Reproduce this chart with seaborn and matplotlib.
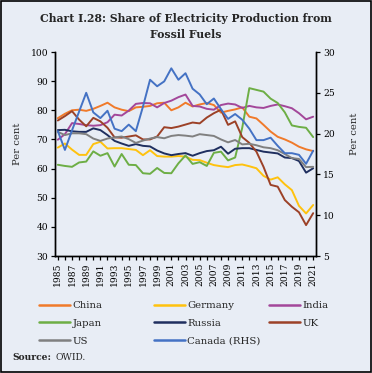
import pandas as pd
import matplotlib
matplotlib.use("Agg")
import matplotlib.pyplot as plt
import seaborn as sns
from matplotlib.ticker import MultipleLocator
from matplotlib.lines import Line2D
from matplotlib.patches import Rectangle

years = list(range(1985, 2022))

china = [77.3, 78.8, 80.0, 80.2, 79.8, 80.5, 81.5, 82.6, 81.0, 80.2,
         79.7, 81.0, 81.2, 81.5, 82.4, 82.6, 80.0, 81.0, 82.6, 81.3,
         82.0, 82.5, 81.8, 79.2, 79.8, 80.3, 81.0, 77.8, 77.2, 75.0,
         72.7, 70.9, 70.0, 68.9, 67.5, 66.6, 66.0]
germany = [67.2, 68.6, 66.5, 64.7, 64.7, 68.4, 69.2, 66.9, 67.0, 67.0,
           66.7, 66.4, 64.6, 66.3, 64.3, 64.1, 64.1, 64.3, 64.1, 63.0,
           62.9, 62.0, 61.2, 60.8, 60.5, 61.2, 61.4, 60.8, 60.1, 57.5,
           56.2, 57.0, 54.6, 52.6, 47.2, 44.6, 47.5]
india = [69.9, 71.8, 75.6, 75.3, 74.9, 74.7, 74.9, 75.9, 78.5, 78.2,
         79.9, 82.2, 82.5, 82.4, 81.0, 82.5, 83.3, 84.5, 85.4, 81.5,
         81.3, 80.5, 80.2, 81.8, 82.3, 82.0, 80.8, 81.5, 81.0, 80.8,
         81.5, 82.0, 81.4, 80.7, 79.0, 76.9, 77.8]
japan = [61.3, 60.9, 60.6, 62.1, 62.4, 65.9, 64.4, 65.3, 60.7, 65.0,
         61.3, 61.2, 58.4, 58.2, 60.2, 58.5, 58.4, 61.8, 64.5, 61.6,
         62.2, 60.9, 65.4, 65.8, 62.8, 63.8, 74.0, 87.6, 87.0, 86.4,
         84.0, 82.5, 79.3, 74.8, 74.3, 74.0, 70.8]
russia = [73.2, 73.3, 72.8, 72.6, 72.6, 73.8, 73.2, 71.5, 69.5, 68.6,
          67.8, 68.4, 67.8, 67.6, 66.2, 65.2, 64.6, 65.0, 65.3, 64.4,
          65.3, 66.0, 66.3, 67.5, 65.1, 66.8, 67.0, 67.0, 66.4, 65.8,
          65.5, 65.2, 63.8, 63.6, 62.6, 58.6, 60.1]
uk = [76.5, 78.0, 79.7, 76.8, 74.5, 77.4, 76.2, 74.0, 70.7, 70.6,
      71.0, 71.4, 70.0, 70.0, 71.0, 74.2, 73.9, 74.4, 75.1, 75.8,
      75.5, 77.5, 79.0, 80.2, 75.0, 76.2, 70.8, 68.8, 65.8, 60.6,
      54.4, 53.8, 49.2, 46.9, 45.0, 40.6, 44.7]
us = [72.6, 71.5, 72.1, 72.1, 71.8, 70.3, 69.5, 70.3, 70.7, 71.0,
      70.1, 68.8, 69.6, 70.3, 70.8, 70.4, 71.2, 71.5, 71.3, 71.0,
      71.8, 71.5, 71.2, 70.0, 69.0, 69.8, 68.3, 68.5, 68.0, 67.3,
      67.0, 66.3, 65.0, 63.6, 63.3, 60.5, 60.6]
canada = [20.3, 18.0, 20.4, 22.7, 25.0, 22.6, 21.9, 22.8, 20.6, 20.3,
          21.1, 20.3, 23.3, 26.6, 25.8, 26.4, 28.0, 26.6, 27.4, 25.5,
          24.8, 23.6, 24.3, 23.0, 21.8, 22.4, 21.7, 20.6, 19.2, 19.2,
          19.5, 18.5, 17.6, 17.6, 17.4, 16.3, 17.9]

colors = {"China": "#F07A2A", "Germany": "#FFC20E", "India": "#A3479A",
          "Japan": "#6DAE45", "Russia": "#1F2F5F", "UK": "#9C4127",
          "US": "#808080", "Canada (RHS)": "#4472C4"}

bg = "#E8EDF5"
sns.set_style("ticks")
plt.rcParams["font.family"] = ["DejaVu Serif"]
plt.rcParams["axes.facecolor"] = bg
plt.rcParams["figure.facecolor"] = bg

df = pd.DataFrame({"Year": years, "China": china, "Germany": germany,
                   "India": india, "Japan": japan, "Russia": russia,
                   "UK": uk, "US": us})
long_df = df.melt(id_vars="Year", var_name="Country", value_name="Share")

fig = plt.figure(figsize=(3.72, 3.73), dpi=100)
ax = fig.add_axes([55 / 372, 1 - 256 / 373, 261 / 372, 204 / 373])
ax2 = ax.twinx()

sns.lineplot(data=long_df, x="Year", y="Share", hue="Country",
             palette=colors, ax=ax, legend=False, linewidth=1.4)
sns.lineplot(x=years, y=canada, ax=ax2, color=colors["Canada (RHS)"],
             linewidth=1.4)

ax.set_xlim(1984.6, 2021.4)
ax.set_ylim(30, 100)
ax2.set_ylim(5, 30)
ax.yaxis.set_major_locator(MultipleLocator(10))
ax2.yaxis.set_major_locator(MultipleLocator(5))
ax.set_xticks(years[::2])
ax.set_xticks(years, minor=True)
ax.set_xticklabels([str(y) for y in years[::2]], rotation=90)

for a in (ax, ax2):
    a.spines["top"].set_visible(False)
    for s in a.spines.values():
        s.set_color("black")
        s.set_linewidth(1.0)
    a.tick_params(axis="both", which="both", direction="out", length=3,
                  width=0.9, colors="black", labelsize=6.6, pad=2)
    a.set_facecolor("none")

ax.set_xlabel("")
ax.set_ylabel("Per cent", fontsize=7.2)
ax2.set_ylabel("Per cent", fontsize=7.2, rotation=90)
ax.yaxis.set_label_coords(-0.125, 0.55)
ax2.yaxis.set_label_coords(1.13, 0.60)

fig.text(0.5, 1 - 18 / 373, "Chart I.28: Share of Electricity Production from",
         ha="center", va="center", fontsize=7.8, fontweight="bold")
fig.text(0.5, 1 - 35 / 373, "Fossil Fuels",
         ha="center", va="center", fontsize=7.8, fontweight="bold")

columns = [["China", "Japan", "US"], ["Germany", "Russia", "Canada (RHS)"],
           ["India", "UK"]]
col_x = [39 / 372, 154 / 372, 269 / 372]
for names, x in zip(columns, col_x):
    handles = [Line2D([], [], color=colors[n], linewidth=1.8) for n in names]
    fig.legend(handles, names, loc="upper left",
               bbox_to_anchor=(x, 1 - 301 / 373), frameon=False,
               fontsize=7.3, handlelength=3.1, handletextpad=0.2,
               borderpad=0, borderaxespad=0, labelspacing=0.85)

fig.text(12 / 372, 1 - 358 / 373, "Source:", fontsize=6.6, fontweight="bold",
         va="center")
fig.text(55 / 372, 1 - 358 / 373, "OWID.", fontsize=6.6, va="center")

fig.patches.append(Rectangle((0.004, 0.004), 0.992, 0.992,
                             transform=fig.transFigure, fill=False,
                             edgecolor="black", linewidth=1.2))

fig.savefig("out.png", dpi=100, facecolor=bg)
